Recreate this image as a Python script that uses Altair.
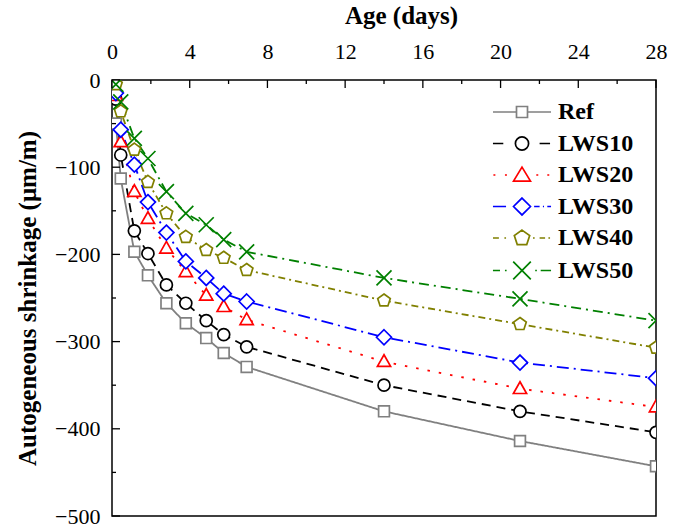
import altair as alt
import pandas as pd

# ---------------- data ----------------
SERIES = ["Ref", "LWS10", "LWS20", "LWS30", "LWS40", "LWS50"]
COLORS = ["#808080", "#000000", "#ff0000", "#0000ff", "#808000", "#008000"]
DAYS = [0.2, 0.45, 1.15, 1.85, 2.8, 3.8, 4.85, 5.75, 6.93, 14, 21, 28]
REF = [-50, -113, -197, -224, -256, -279, -296, -313, -329, -380, -414, -443]
LWS10 = [-22, -86, -173, -199, -235, -256, -276, -292, -306, -350, -380, -404]
LWS20 = [-18, -71, -128, -159, -193, -220, -247, -260, -275, -323, -354, -375]
LWS30 = [-15, -57, -97, -140, -175, -208, -227, -245, -254, -295, -324, -342]
LWS40 = [-5, -36, -80, -117, -153, -180, -195, -204, -218, -253, -280, -307]
LWS50 = [-5, -25, -67, -90, -128, -153, -166, -183, -197, -227, -251, -276]
VALUES = [REF, LWS10, LWS20, LWS30, LWS40, LWS50]

X_MAJOR = [0, 4, 8, 12, 16, 20, 24, 28]
X_MINOR = [2, 6, 10, 14, 18, 22, 26]
Y_MAJOR = [0, -100, -200, -300, -400, -500]
Y_MINOR = [-50, -150, -250, -350, -450]

rows = []
for s, vals in zip(SERIES, VALUES):
    for d, v in zip(DAYS, vals):
        rows.append({"series": s, "day": d, "value": v})
df = pd.DataFrame(rows)

# ---------------- styles ----------------
FONT = "Liberation Serif"
DASHES = [[1, 0], [9, 6], [2.5, 9], [12, 5, 2, 5], [7, 4, 2, 4], [10, 5, 2, 5]]

CH_MARKERS = [
    "M-0.9,-0.9H0.9V0.9H-0.9Z",
    "M1,0A1,1,0,1,1,-1,0A1,1,0,1,1,1,0Z",
    "M0,-1.15L1.1,0.8H-1.1Z",
    "M0,-1.25L1.25,0L0,1.25L-1.25,0Z",
    "M0,-1.1L1.05,-0.34L0.65,0.89L-0.65,0.89L-1.05,-0.34Z",
    "M-1.25,-1.25L1.25,1.25M-1.25,1.25L1.25,-1.25",
]

LEG_PATHS = [
    "M-2.64,0H-0.5M0.5,0H2.64M-0.5,-0.5H0.5V0.5H-0.5Z",
    "M-2.64,0H-1.7M1.6,0H2.55M0.6,0A0.6,0.6,0,1,1,-0.6,0A0.6,0.6,0,1,1,0.6,0Z",
    "M-2.6,0H-2.42M-1.55,0H-1.37M1.3,0H1.48M2.3,0H2.48M0,-0.72L0.77,0.55H-0.77Z",
    "M-2.64,0H-1.45M1.1,0H1.6M1.9,0H2.0M2.3,0H2.64M0,-0.77L0.77,0L0,0.77L-0.77,0Z",
    "M-2.64,0H-2.1M-1.6,0H-1.45M1.0,0H1.15M1.6,0H2.1M2.4,0H2.55M0,-0.72L0.7,-0.22L0.43,0.6L-0.43,0.6L-0.7,-0.22Z",
    "M-2.64,0H-2.0M-1.55,0H-1.4M1.2,0H1.35M1.7,0H2.64M-0.8,-0.8L0.8,0.8M-0.8,0.8L0.8,-0.8",
]

xs = alt.Scale(domain=[0, 28], nice=False, zero=False)
ys = alt.Scale(domain=[-500, 0], nice=False, zero=False)

xaxis = alt.Axis(orient="top", values=X_MAJOR, title="Age (days)", ticks=False, domain=False,
                 grid=False, labelFont=FONT, labelFontSize=22, labelColor="black",
                 labelPadding=17, titleFont=FONT, titleFontSize=25, titleFontWeight="bold",
                 titleColor="black", titlePadding=12, titleX=289, titleAlign="center",
                 labelFlush=False)
yaxis = alt.Axis(orient="left", values=Y_MAJOR, title="Autogeneous shrinkage (μm/m)", ticks=False,
                 domain=False, grid=False, labelFont=FONT, labelFontSize=22, labelColor="black",
                 labelPadding=12, titleFont=FONT, titleFontSize=25, titleFontWeight="bold",
                 titleColor="black", titlePadding=14, labelFlush=False)

X_ENC = alt.X("day:Q", scale=xs, axis=xaxis)
Y_ENC = alt.Y("value:Q", scale=ys, axis=yaxis)

color_scale = alt.Scale(domain=SERIES, range=COLORS)
base = alt.Chart(df)

legend_layer = base.transform_filter("false").mark_point(filled=False, strokeWidth=1.7, opacity=1).encode(
    x=X_ENC, y=Y_ENC,
    color=alt.Color("series:N", scale=color_scale, legend=alt.Legend(title=None)),
    shape=alt.Shape("series:N", scale=alt.Scale(domain=SERIES, range=LEG_PATHS), legend=alt.Legend(title=None)),
)

lines = base.transform_calculate(style="datum.series").mark_line(strokeWidth=1.8, clip=True).encode(
    x=X_ENC, y=Y_ENC,
    color=alt.Color("series:N", scale=color_scale),
    strokeDash=alt.StrokeDash("style:N", scale=alt.Scale(domain=SERIES[::-1], range=DASHES[::-1]),
                              legend=None),
)

marker_layers = []
for s, path in zip(SERIES, CH_MARKERS):
    marker_layers.append(
        base.transform_filter(alt.datum.series == s)
        .mark_point(shape=path, size=144, filled=True, fill="white", strokeWidth=1.7, opacity=1, clip=True)
        .encode(x=X_ENC, y=Y_ENC,
                stroke=alt.Stroke("series:N", scale=alt.Scale(domain=SERIES, range=COLORS), legend=None))
    )

xt_major = alt.Chart(pd.DataFrame({"day": X_MAJOR})).mark_rule(color="black", strokeWidth=1.3).encode(
    x=X_ENC, y=alt.value(0), y2=alt.value(8))
xt_minor = alt.Chart(pd.DataFrame({"day": X_MINOR})).mark_rule(color="black", strokeWidth=1.3).encode(
    x=X_ENC, y=alt.value(0), y2=alt.value(4))
yt_major = alt.Chart(pd.DataFrame({"value": Y_MAJOR})).mark_rule(color="black", strokeWidth=1.3).encode(
    y=Y_ENC, x=alt.value(0), x2=alt.value(8))
yt_minor = alt.Chart(pd.DataFrame({"value": Y_MINOR})).mark_rule(color="black", strokeWidth=1.3).encode(
    y=Y_ENC, x=alt.value(0), x2=alt.value(4))

chart = alt.layer(legend_layer, lines, *marker_layers, xt_major, xt_minor, yt_major, yt_minor).properties(
    width=544, height=436,
    autosize=alt.AutoSizeParams(type="none"),
    padding={"left": 112, "top": 80, "right": 28, "bottom": 15},
    background="white",
).configure_view(stroke="black", strokeWidth=1.5).configure_legend(
    orient="none", legendX=398, legendY=20, symbolSize=484, symbolStrokeWidth=1.7,
    symbolFillColor="white", labelFont=FONT, labelFontSize=24, labelFontWeight="bold",
    labelColor="black", labelOffset=24, rowPadding=7.5, padding=0,
)

chart.save("out.html", embed_options={"renderer": "svg", "actions": False})
